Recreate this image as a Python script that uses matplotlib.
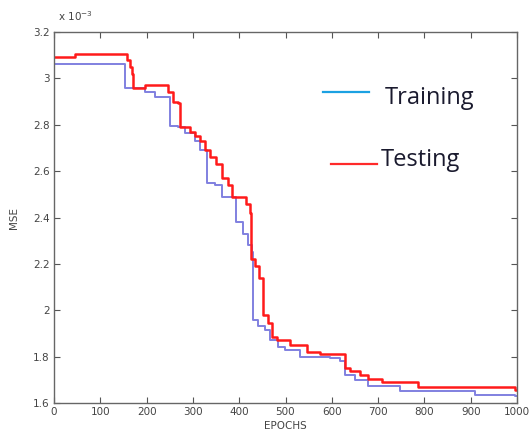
import matplotlib
matplotlib.use("Agg")
import matplotlib.pyplot as plt

# MSE values in units of 1e-3
test_epochs = [0, 45, 158, 164, 168, 171, 197, 246, 257, 268, 272, 294, 305, 315, 326, 337,
               350, 363, 376, 384, 415, 423, 425, 434, 443, 451, 462, 471, 482, 510, 546,
               575, 628, 639, 661, 678, 708, 786, 996, 1000]
test_mse = [3.092, 3.105, 3.08, 3.05, 3.02, 2.96, 2.97, 2.94, 2.90, 2.895, 2.79, 2.77, 2.75,
            2.73, 2.69, 2.66, 2.63, 2.57, 2.54, 2.49, 2.46, 2.42, 2.22, 2.19, 2.14, 1.98,
            1.945, 1.885, 1.87, 1.85, 1.82, 1.81, 1.75, 1.74, 1.72, 1.705, 1.69, 1.67, 1.655, 1.655]

train_epochs = [0, 153, 197, 218, 251, 268, 283, 305, 315, 330, 348, 363, 393, 408, 419, 428,
                430, 441, 456, 467, 484, 499, 531, 596, 618, 628, 650, 678, 747, 909, 996, 1000]
train_mse = [3.062, 2.96, 2.94, 2.92, 2.795, 2.79, 2.765, 2.73, 2.69, 2.55, 2.54, 2.49, 2.38,
             2.33, 2.28, 2.25, 1.96, 1.93, 1.915, 1.87, 1.84, 1.83, 1.80, 1.795, 1.78, 1.72,
             1.70, 1.675, 1.65, 1.635, 1.63, 1.63]

x_ticks = [0, 100, 200, 300, 400, 500, 600, 700, 800, 900, 1000]
y_ticks = [1.6, 1.8, 2.0, 2.2, 2.4, 2.6, 2.8, 3.0, 3.2]
y_tick_labels = ["1.6", "1.8", "2", "2.2", "2.4", "2.6", "2.8", "3", "3.2"]

fig = plt.figure(figsize=(5.31, 4.41), dpi=100)
ax = fig.add_axes([54/531, 1 - 403/441, (517-54)/531, (403-32)/441])

ax.plot(train_epochs, train_mse, color="#8080e0", lw=1.4, drawstyle="steps-post")
ax.plot(test_epochs, test_mse, color="#ff1a1a", lw=1.8, drawstyle="steps-post")

ax.set_xlim(0, 1000)
ax.set_ylim(1.6, 3.2)
ax.set_xticks(x_ticks)
ax.set_yticks(y_ticks)
ax.set_yticklabels(y_tick_labels)
ax.tick_params(direction="in", top=True, right=True, length=4, width=0.8,
               labelsize=7.5, colors="#555555", labelcolor="#444444", pad=3)
for s in ax.spines.values():
    s.set_color("#666666")
    s.set_linewidth(1.0)

ax.set_xlabel("EPOCHS", fontsize=7.5, color="#444444", labelpad=3)
ax.set_ylabel("MSE", fontsize=7.5, color="#444444", labelpad=10)
fig.text(58/531, 1 - 16/441, r"x 10$^{-3}$", fontsize=7.5, color="#444444", va="center")

# Pasted-in legend
fig.add_artist(plt.Line2D([323/531, 369/531], [1 - 92/441, 1 - 92/441], color="#1ba1e2", lw=1.6))
fig.text(385/531, 1 - 98/441, "Training", fontsize=17, family="Open Sans", color="#1a1a2e", va="center")
fig.add_artist(plt.Line2D([331/531, 377/531], [1 - 164/441, 1 - 164/441], color="#ff2a2a", lw=1.6))
fig.text(381/531, 1 - 160/441, "Testing", fontsize=17, family="Open Sans", color="#1a1a2e", va="center")

fig.savefig("out.png", dpi=100)
